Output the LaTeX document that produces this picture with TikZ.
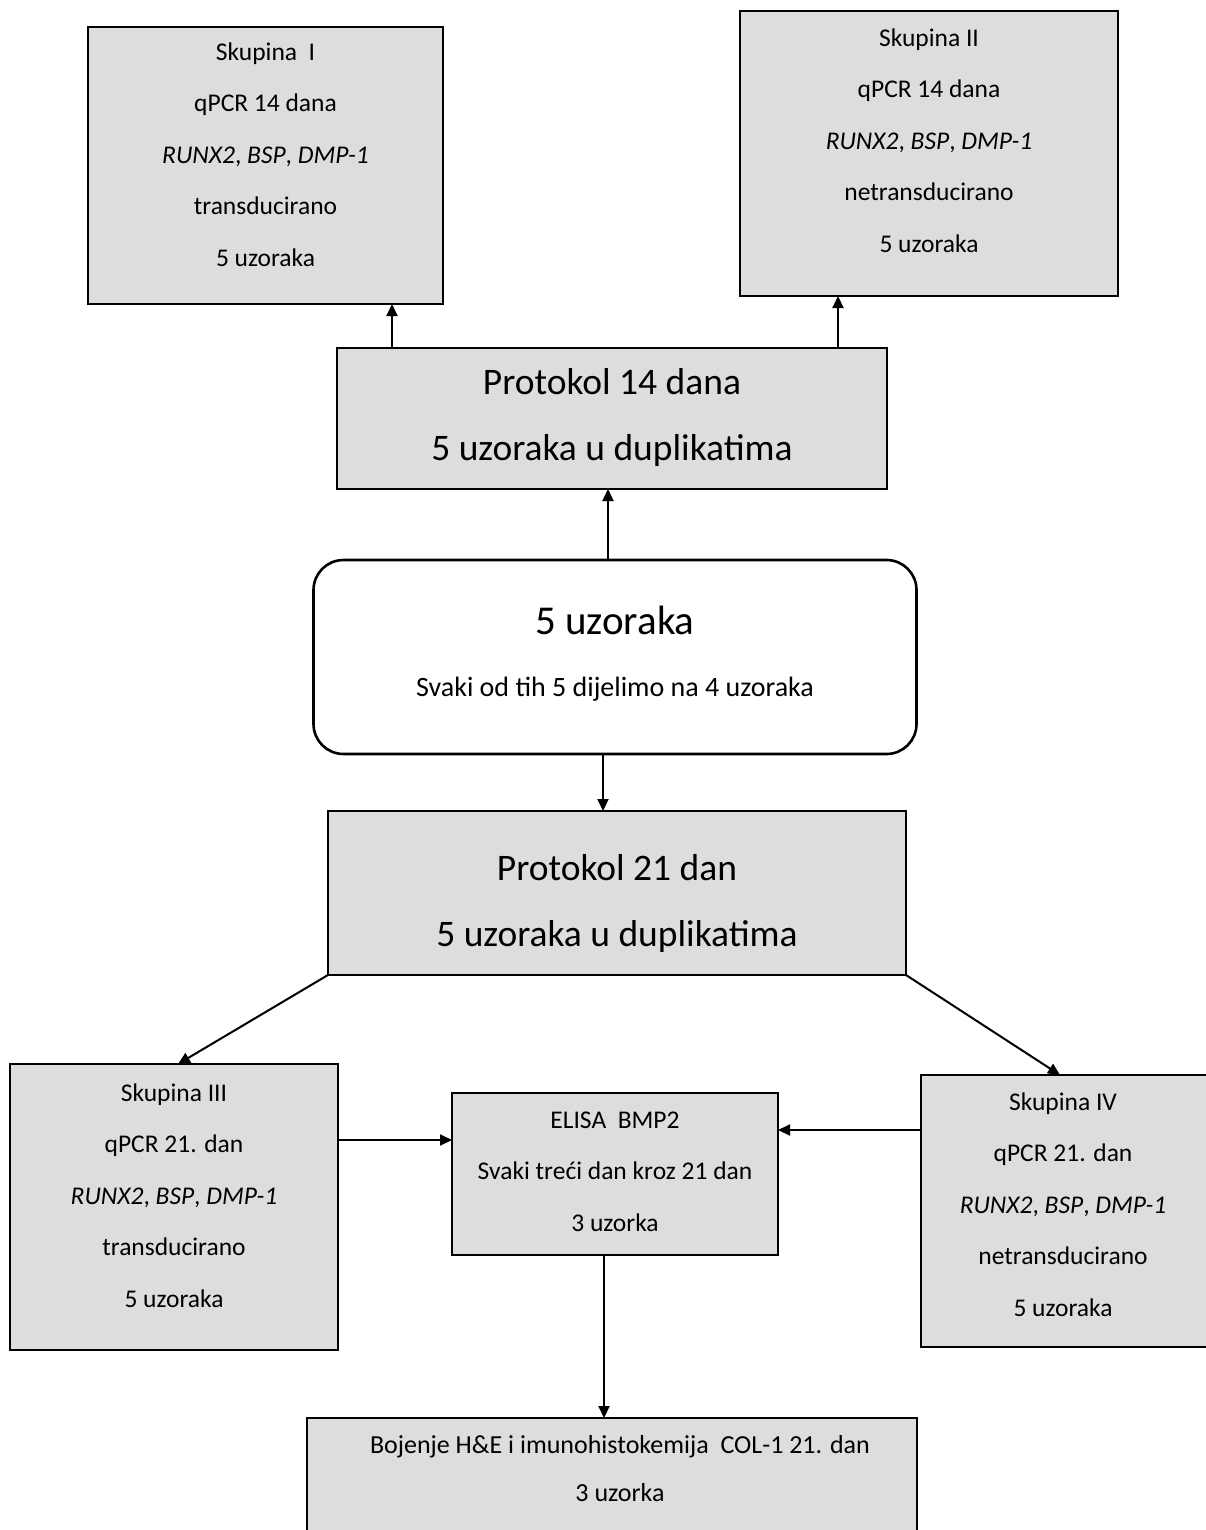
\documentclass[tikz,border=0pt]{standalone}
\usepackage{fontspec}
\setmainfont{Carlito}
\usetikzlibrary{arrows.meta,calc}
\definecolor{boxgray}{RGB}{221,221,221}
\newcommand\firstsmall{\rule{0pt}{40pt}}
\newcommand\firstbig{\rule{0pt}{55pt}}
\begin{document}
\begin{tikzpicture}[x=1pt,y=-1pt,
  box/.style={draw=black,line width=2.6pt,fill=boxgray,inner sep=0pt,outer sep=0pt},
  rbox/.style={draw=black,line width=2.6pt,fill=white,rounded corners=30pt,inner sep=0pt,outer sep=0pt},
  arr/.style={line width=2pt,-{Triangle[length=12pt,width=11pt]}},
  small/.style={anchor=north,inner sep=0pt,align=center,font=\fontsize{25.5}{51.5}\selectfont},
  smallb/.style={anchor=north,inner sep=0pt,align=center,font=\fontsize{26}{48}\selectfont},
  mid/.style={anchor=north,inner sep=0pt,align=center,font=\fontsize{28}{34}\selectfont},
  big/.style={anchor=north,inner sep=0pt,align=center,font=\fontsize{37.5}{66.5}\selectfont},
  huge/.style={anchor=north,inner sep=0pt,align=center,font=\fontsize{41}{47}\selectfont}]
\useasboundingbox (0,0) rectangle (1206,1530);
\clip (0,0) rectangle (1206,1530);
\fill[white] (0,0) rectangle (1206,1530);

% boxes
\node[box,minimum width=355pt,minimum height=277pt] (b1) at (265.5,165.5) {};
\node[box,minimum width=378pt,minimum height=285pt] (b2) at (929,153.5) {};
\node[box,minimum width=550pt,minimum height=141pt] (p14) at (612,418.5) {};
\node[rbox,minimum width=603pt,minimum height=194pt] (r) at (615,657) {};
\node[box,minimum width=578pt,minimum height=164pt] (p21) at (617,893) {};
\node[box,minimum width=328pt,minimum height=286pt] (b3) at (174,1207) {};
\node[box,minimum width=326pt,minimum height=162pt] (el) at (615,1174) {};
\node[box,minimum width=294pt,minimum height=272pt] (b4) at (1068,1211) {};
\node[box,minimum width=610pt,minimum height=130pt] (bo) at (612,1483) {};

% texts
\node[small] (b1t) at (265.5,20) {\firstsmall Skupina\ \ I\\ qPCR 14 dana\\ \textit{RUNX2}, \textit{BSP}, \textit{DMP-1}\\ transducirano\\ 5 uzoraka};
\node[small] (b2t) at (929,6) {\firstsmall Skupina II\\ qPCR 14 dana\\ \textit{RUNX2}, \textit{BSP}, \textit{DMP-1}\\ netransducirano\\ 5 uzoraka};
\node[big] (p14t) at (612,339) {\firstbig Protokol 14 dana\\ 5 uzoraka u duplikatima};
\node[huge] (rt1) at (615,579) {\firstbig 5 uzoraka};
\node[mid] (rt2) at (615,656) {\firstsmall Svaki od tih 5 dijelimo na 4 uzoraka};
\node[big] (p21t) at (617,825) {\firstbig Protokol 21 dan\\ 5 uzoraka u duplikatima};
\node[small] (b3t) at (174,1061) {\firstsmall Skupina III\\ qPCR 21. dan\\ \textit{RUNX2}, \textit{BSP}, \textit{DMP-1}\\ transducirano\\ 5 uzoraka};
\node[small] (elt) at (615,1088) {\firstsmall ELISA\ \ BMP2\\ Svaki treći dan kroz 21 dan\\ 3 uzorka};
\node[small] (b4t) at (1063,1070) {\firstsmall Skupina IV\\ qPCR 21. dan\\ \textit{RUNX2}, \textit{BSP}, \textit{DMP-1}\\ netransducirano\\ 5 uzoraka};
\node[smallb] (bot) at (620,1413) {\firstsmall Bojenje H\&E i imunohistokemija\ \ COL-1 21. dan\\ 3 uzorka};

% connectors
\coordinate (h1) at (0,1140);
\coordinate (h2) at (0,1130);
\draw[arr] ([xshift=-220pt]p14.north) -- ([xshift=-220pt]p14.north |- b1.south);
\draw[arr] ([xshift=226pt]p14.north) -- ([xshift=226pt]p14.north |- b2.south);
\draw[arr] ([xshift=-7pt]r.north) -- ([xshift=-7pt]r.north |- p14.south);
\draw[arr] ([xshift=-12pt]r.south) -- ([xshift=-12pt]r.south |- p21.north);
\draw[arr] (p21.south west) -- ([xshift=4pt]b3.north);
\draw[arr] (p21.south east) -- ([xshift=-8pt]b4.north);
\draw[arr] (b3.east |- h1) -- (el.west |- h1);
\draw[arr] (b4.west |- h2) -- (el.east |- h2);
\draw[arr] ([xshift=-11pt]el.south) -- ([xshift=-11pt]el.south |- bo.north);
\end{tikzpicture}
\end{document}
